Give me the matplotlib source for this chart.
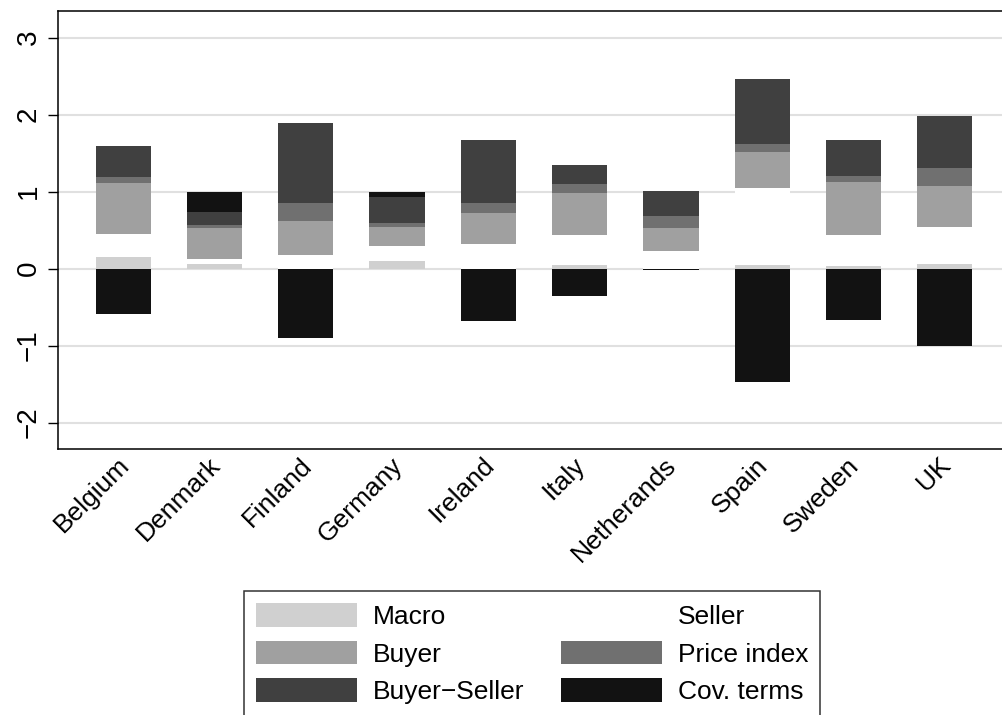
import matplotlib
matplotlib.use("Agg")
import matplotlib.pyplot as plt
import matplotlib.transforms as mtransforms
from matplotlib.patches import Patch
import numpy as np

'''
Decomposition of the price gap by country, stacked bars
'''
countries = ["Belgium", "Denmark", "Finland", "Germany", "Ireland",
             "Italy", "Netherands", "Spain", "Sweden", "UK"]

macro        = [0.145, 0.065, 0.0,   0.10,  0.0,   0.04,  0.0,   0.04,  0.03,  0.055]
seller       = [0.30,  0.055, 0.17,  0.19,  0.32,  0.40,  0.23,  1.01,  0.41,  0.48]
buyer        = [0.67,  0.40,  0.45,  0.245, 0.395, 0.54,  0.30,  0.46,  0.68,  0.535]
price_index  = [0.08,  0.04,  0.225, 0.06,  0.135, 0.115, 0.15,  0.105, 0.08,  0.23]
buyer_seller = [0.40,  0.18,  1.045, 0.34,  0.815, 0.245, 0.325, 0.84,  0.465, 0.685]
cov_terms    = [-0.595, 0.255, -0.90, 0.06, -0.68, -0.355, -0.02, -1.475, -0.67, -1.0]

components = [
    ("Macro", macro, "#d0d0d0"),
    ("Seller", seller, "#ffffff"),
    ("Buyer", buyer, "#a0a0a0"),
    ("Price index", price_index, "#707070"),
    ("Buyer\u2212Seller", buyer_seller, "#404040"),
    ("Cov. terms", cov_terms, "#121212"),
]

plt.rcParams['font.family'] = ['Liberation Sans', 'DejaVu Sans']

fig = plt.figure(figsize=(10.03, 7.15), dpi=100)
ax = fig.add_axes([0.0581, 0.372, 1.0 - 0.0581, 0.985 - 0.372])

x = np.arange(len(countries))
width = 0.606
pos_base = np.zeros(len(countries))
neg_base = np.zeros(len(countries))
handles = {}
for name, vals, col in components:
    vals = np.array(vals, dtype=float)
    # positive parts stack upwards from 0, negative parts downwards
    bottoms = np.where(vals >= 0, pos_base, neg_base)
    ax.bar(x, vals, width, bottom=bottoms, color=col, edgecolor='none', zorder=2)
    pos_base = pos_base + np.clip(vals, 0, None)
    neg_base = neg_base + np.clip(vals, None, 0)
    handles[name] = Patch(facecolor=col, edgecolor='none', label=name)

ax.set_xlim(-0.712, 9.638)
ax.set_ylim(-2.344, 3.348)
ax.set_yticks([-2, -1, 0, 1, 2, 3])
ax.yaxis.grid(True, color='#e0e0e0', linewidth=1.5, zorder=0)
ax.set_axisbelow(True)

ax.spines['right'].set_visible(False)
for s in ['left', 'top', 'bottom']:
    ax.spines[s].set_linewidth(1.1)

ax.tick_params(axis='y', length=7.5, width=1, pad=4.5, labelsize=20)
for lab in ax.get_yticklabels():
    lab.set_rotation(90)
    lab.set_va('center')

ax.set_xticks(x)
ax.set_xticklabels(countries, rotation=45, ha='right', va='center',
                   rotation_mode='anchor', fontsize=19)
ax.tick_params(axis='x', length=0, pad=9)
offset = mtransforms.ScaledTranslation(2 / 100, 0, fig.dpi_scale_trans)
for lab in ax.get_xticklabels():
    lab.set_transform(lab.get_transform() + offset)

order = ["Macro", "Buyer", "Buyer\u2212Seller", "Seller", "Price index", "Cov. terms"]
leg = fig.legend([handles[n] for n in order], order, ncol=2,
                 loc='upper left', bbox_to_anchor=(0.2433, 0.1734),
                 fontsize=19, frameon=True, fancybox=False,
                 handlelength=3.83, handleheight=1.02, handletextpad=0.6,
                 columnspacing=1.38, labelspacing=0.44, borderpad=0.45,
                 borderaxespad=0)
leg.get_frame().set_edgecolor('black')
leg.get_frame().set_linewidth(1.1)

plt.savefig("out.png", dpi=100)
